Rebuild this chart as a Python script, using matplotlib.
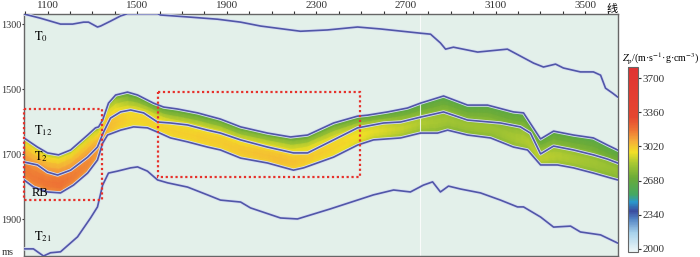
import numpy as np
import matplotlib
matplotlib.use('Agg')
import matplotlib.pyplot as plt
from matplotlib.colors import LinearSegmentedColormap
from matplotlib.patches import Rectangle

plt.rcParams['font.family'] = ['Liberation Serif', 'DejaVu Serif']
plt.rcParams['mathtext.fontset'] = 'stix'

# horizons: (trace, time ms)
t0_x = [995, 1069, 1158, 1212, 1261, 1283, 1323, 1337, 1381, 1426, 1457, 1591, 1604, 1725, 1859, 1962,
        2051, 2229, 2350, 2484, 2587, 2765, 2810, 2854, 2877, 2912, 3020, 3153, 3270, 3314, 3368, 3403,
        3479, 3537, 3569, 3591, 3622, 3645]
t0_y = [1269, 1282, 1300, 1300, 1294, 1294, 1309, 1306, 1291, 1275, 1268, 1268, 1272, 1278, 1285, 1294,
        1306, 1322, 1318, 1309, 1315, 1328, 1331, 1358, 1377, 1371, 1386, 1377, 1420, 1432, 1423, 1435,
        1447, 1447, 1457, 1497, 1512, 1524]

t12_x = [995, 1055, 1100, 1149, 1203, 1279, 1314, 1328, 1346, 1372, 1404, 1457, 1502, 1573, 1618, 1680,
         1770, 1872, 1962, 2082, 2185, 2261, 2377, 2484, 2528, 2618, 2707, 2765, 2868, 2975, 3064, 3180,
         3225, 3301, 3359, 3448, 3537, 3600, 3645]
t12_y = [1650, 1678, 1696, 1702, 1687, 1641, 1619, 1616, 1595, 1543, 1518, 1509, 1518, 1543, 1555, 1561,
         1573, 1592, 1616, 1635, 1647, 1641, 1604, 1583, 1580, 1570, 1558, 1543, 1521, 1549, 1549, 1570,
         1573, 1653, 1629, 1641, 1650, 1672, 1687]

t2_x = [995, 1055, 1100, 1145, 1203, 1279, 1323, 1350, 1381, 1426, 1471, 1529, 1591, 1649, 1725, 1814,
        1872, 1962, 2082, 2198, 2261, 2377, 2484, 2600, 2676, 2765, 2868, 2975, 3122, 3211, 3256, 3301,
        3359, 3448, 3537, 3600, 3645]
t2_y = [1724, 1733, 1755, 1764, 1749, 1709, 1678, 1632, 1589, 1570, 1564, 1573, 1601, 1604, 1610, 1626,
        1635, 1656, 1678, 1696, 1696, 1656, 1619, 1604, 1601, 1586, 1570, 1595, 1604, 1616, 1635, 1699,
        1675, 1687, 1702, 1715, 1727]

rb_x = [995, 1037, 1100, 1158, 1216, 1279, 1323, 1346, 1368, 1426, 1484, 1546, 1591, 1649, 1725, 1814,
        1872, 1962, 2082, 2198, 2243, 2377, 2484, 2555, 2676, 2765, 2841, 2886, 2975, 3078, 3180, 3243,
        3301, 3377, 3448, 3537, 3613, 3645]
rb_y = [1779, 1801, 1816, 1819, 1795, 1758, 1718, 1666, 1641, 1626, 1616, 1619, 1632, 1650, 1662, 1678,
        1687, 1712, 1727, 1749, 1742, 1709, 1672, 1656, 1650, 1635, 1635, 1626, 1641, 1650, 1678, 1687,
        1733, 1733, 1742, 1758, 1773, 1779]

t21_x = [995, 1037, 1082, 1113, 1158, 1234, 1292, 1323, 1346, 1372, 1412, 1471, 1502, 1546, 1591, 1636,
         1725, 1814, 1872, 1962, 2006, 2140, 2216, 2363, 2497, 2555, 2645, 2720, 2778, 2819, 2854, 2890,
         2944, 3033, 3122, 3198, 3225, 3301, 3359, 3435, 3479, 3569, 3645]
t21_y = [1991, 1991, 2013, 2003, 2000, 1954, 1896, 1862, 1795, 1758, 1752, 1742, 1739, 1752, 1779, 1788,
         1801, 1825, 1841, 1847, 1865, 1896, 1899, 1868, 1838, 1825, 1810, 1816, 1795, 1785, 1816, 1798,
         1807, 1819, 1841, 1862, 1862, 1893, 1924, 1921, 1939, 1948, 1973]

# impedance inside the T12-RB interval, rows from T12 (top) to RB (bottom)
ctrl_traces = [1000, 1160, 1290, 1380, 1470, 1650, 1870, 2140, 2410, 2590, 2770, 2940, 3120, 3300, 3480, 3640]
rel_depth = [0.0, 0.12, 0.25, 0.38, 0.5, 0.62, 0.75, 0.88, 1.0]
imp = np.array([
    [2880, 2840, 2800, 2720, 2680, 2680, 2680, 2700, 2680, 2660, 2620, 2600, 2640, 2650, 2620, 2580],
    [2980, 2960, 2930, 2850, 2720, 2710, 2720, 2750, 2730, 2700, 2680, 2670, 2680, 2690, 2680, 2660],
    [3040, 3030, 3000, 2930, 2820, 2800, 2820, 2860, 2840, 2780, 2730, 2720, 2720, 2740, 2720, 2700],
    [3080, 3080, 3050, 2980, 2900, 2900, 2920, 2940, 2920, 2870, 2790, 2760, 2760, 2790, 2760, 2740],
    [3120, 3130, 3090, 3010, 2950, 2950, 2960, 2980, 2950, 2910, 2840, 2790, 2790, 2830, 2800, 2780],
    [3150, 3170, 3120, 3030, 2980, 2980, 3000, 3020, 2980, 2930, 2860, 2820, 2820, 2870, 2840, 2810],
    [3170, 3190, 3140, 3040, 2990, 3000, 3010, 3040, 2990, 2930, 2860, 2830, 2830, 2890, 2850, 2810],
    [3160, 3180, 3130, 3030, 2980, 2990, 3000, 3030, 2970, 2900, 2830, 2800, 2810, 2870, 2830, 2790],
    [3120, 3130, 3090, 3000, 2950, 2960, 2980, 3000, 2940, 2870, 2800, 2770, 2780, 2830, 2790, 2760],
])

x_labels = [1100, 1500, 1900, 2300, 2700, 3100, 3500]
y_labels = [1300, 1500, 1700, 1900]
cb_ticks = [2000, 2340, 2680, 3020, 3360, 3700]
box1 = (995, 1341, 1561, 1841)   # trace0, trace1, t0, t1
box2 = (1595, 2493, 1509, 1770)

cmap = LinearSegmentedColormap.from_list('zp', [
    (0.0, '#eef7f8'), (0.10, '#a9d3ec'), (0.18, '#4f80c2'), (0.22, '#3b4c9f'),
    (0.27, '#2a98cc'), (0.31, '#45a862'), (0.40, '#6aab38'), (0.48, '#a9c832'),
    (0.54, '#f3e026'), (0.60, '#f5ad3a'), (0.66, '#ee7434'), (0.73, '#e54630'),
    (1.0, '#e03232')])
vmin, vmax = 1970, 3810

fig = plt.figure(figsize=(7, 2.57), dpi=100)
ax = fig.add_axes([0.0343, 0.005, 0.848, 0.9405])
ax.set_facecolor('#e3f0ea')

# colour-filled interval between T12 and RB
xf = np.linspace(995, 3645, 500)
top = np.interp(xf, t12_x, t12_y)
bot = np.interp(xf, rb_x, rb_y)
rd = np.array(rel_depth)[:, None]
X = np.tile(xf, (len(rel_depth), 1))
Y = top[None, :] + rd * (bot - top)[None, :]
C = np.array([np.interp(xf, ctrl_traces, row) for row in imp])
mesh = ax.pcolormesh(X, Y, C, cmap=cmap, vmin=vmin, vmax=vmax, shading='gouraud', zorder=1)

# faint vertical seam
ax.axvline(2765, color='white', lw=0.8, alpha=0.8, zorder=2)

lc = '#5156a8'
for xs, ys in [(t0_x, t0_y), (t12_x, t12_y), (t2_x, t2_y), (rb_x, rb_y), (t21_x, t21_y)]:
    ax.plot(xs, ys, color='#d6def0', lw=2.4, zorder=3, solid_joinstyle='round')
    ax.plot(xs, ys, color=lc, lw=1.2, zorder=4, solid_joinstyle='round')

for b in [box1, box2]:
    ax.add_patch(Rectangle((b[0], b[2]), b[1] - b[0], b[3] - b[2], fill=False,
                           ec='#e6312b', lw=1.6, ls=(0, (1, 1.2)), zorder=5, clip_on=False))

fs = 8
ax.text(1040, 1338, r'$\mathrm{T}_{0}$', fontsize=fs + 1, va='center', zorder=6)
ax.text(1040, 1628, r'$\mathrm{T}_{12}$', fontsize=fs + 1, va='center', zorder=6)
ax.text(1040, 1706, r'$\mathrm{T}_{2}$', fontsize=fs + 1, va='center', zorder=6)
ax.text(1030, 1819, 'RB', fontsize=fs + 1, va='center', zorder=6)
ax.text(1040, 1954, r'$\mathrm{T}_{21}$', fontsize=fs + 1, va='center', zorder=6)

ax.set_xlim(995, 3645)
ax.set_ylim(2012, 1269)
ax.xaxis.tick_top()
ax.set_xticks(x_labels)
ax.set_xticks(np.arange(1000, 3700, 100), minor=True)
ax.set_yticks(y_labels)
ax.tick_params(axis='x', which='both', direction='out', length=2.5, width=0.8,
               labelsize=fs, colors='#333333', pad=0.5)
ax.tick_params(axis='y', direction='out', length=1.8, width=0.8,
               labelsize=7.3, colors='#333333', pad=0.3)
for s in ax.spines.values():
    s.set_color('#666666')
    s.set_linewidth(1.0)
fig.text(0.003, 0.0, 'ms', ha='left', va='bottom', fontsize=7.5, color='#333333')
ax.text(0.99, 1.0, '线', transform=ax.transAxes, ha='center', va='bottom', fontsize=fs,
        family=['Noto Sans CJK SC', 'DejaVu Sans'])

cax = fig.add_axes([0.897, 0.0195, 0.0143, 0.72])
cb = fig.colorbar(mesh, cax=cax)
cb.set_ticks(cb_ticks)
cb.ax.tick_params(labelsize=fs, length=2.5, width=0.8, pad=1, colors='#333333')
cb.outline.set_edgecolor('#666666')
fig.text(0.888, 0.775, r'$Z_{\rm p}$/(m·s$^{-1}$·g·cm$^{-3}$)', fontsize=7.2, ha='left', va='center')

fig.savefig('out.png', dpi=100)
